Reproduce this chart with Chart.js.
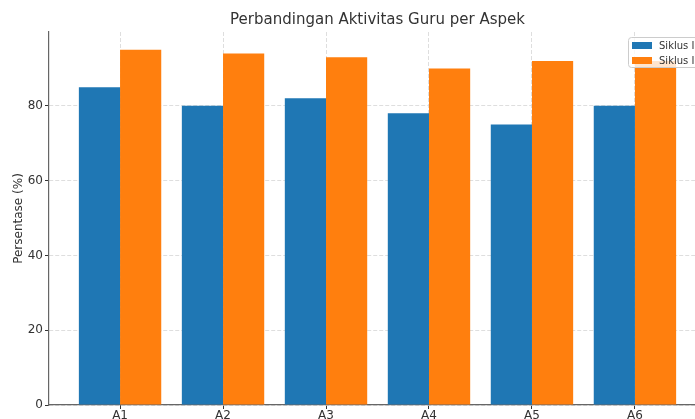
<!DOCTYPE html>
<html>
<head>
<meta charset="utf-8">
<script src="https://cdn.jsdelivr.net/npm/chart.js@4.4.0/dist/chart.umd.min.js"></script>
<style>
    html, body { margin: 0; padding: 0; overflow: hidden; background: #fff; }
    #wrap { width: 720px; height: 419px; position: relative; }
</style>
</head>
<body>
<div id="wrap"><canvas id="chart"></canvas></div>
<script>
// Data
const categories = ['A1', 'A2', 'A3', 'A4', 'A5', 'A6'];
const siklus1 = [85, 80, 82, 78, 75, 80];
const siklus2 = [95, 94, 93, 90, 92, 92];
const yTicks = [0, 20, 40, 60, 80];
const seriesNames = ['Siklus I', 'Siklus II'];

const FONT = "'DejaVu Sans', sans-serif";
const TEXT = '#333333';

// Title, y label and matplotlib-like legend
const extras = {
    id: 'extras',
    afterDatasetsDraw(chart) {
        const ctx = chart.ctx;
        const area = chart.chartArea;
        ctx.save();
        // title
        ctx.fillStyle = TEXT;
        ctx.font = '15px ' + FONT;
        ctx.textAlign = 'center';
        ctx.textBaseline = 'middle';
        ctx.fillText('Perbandingan Aktivitas Guru per Aspek', (area.left + area.right) / 2, 20);
        // y label
        ctx.save();
        ctx.translate(19, (area.top + area.bottom) / 2);
        ctx.rotate(-Math.PI / 2);
        ctx.font = '12px ' + FONT;
        ctx.fillText('Persentase (%)', 0, 0);
        ctx.restore();
        // legend
        const bx = area.right - 78, by = 37, bw = 90, bh = 30;
        ctx.fillStyle = 'rgba(255,255,255,0.8)';
        ctx.strokeStyle = '#cccccc';
        ctx.lineWidth = 1;
        ctx.beginPath();
        ctx.roundRect(bx + 0.5, by + 0.5, bw, bh, 3);
        ctx.fill();
        ctx.stroke();
        ctx.font = '10px ' + FONT;
        ctx.textAlign = 'left';
        chart.data.datasets.forEach((ds, i) => {
            const y = by + 8 + i * 15;
            ctx.fillStyle = ds.backgroundColor;
            ctx.fillRect(bx + 4, y - 3, 20, 7);
            ctx.fillStyle = TEXT;
            ctx.fillText(ds.label, bx + 31, y + 1);
        });
        ctx.restore();
    }
};

new Chart(document.getElementById('chart'), {
    type: 'bar',
    data: {
        datasets: [{
            label: seriesNames[0],
            data: siklus1.map((v, i) => ({ x: i, y: v })),
            backgroundColor: '#1f77b4',
            categoryPercentage: 0.8,
            barPercentage: 1.0
        }, {
            label: seriesNames[1],
            data: siklus2.map((v, i) => ({ x: i, y: v })),
            backgroundColor: '#ff7f0e',
            categoryPercentage: 0.8,
            barPercentage: 1.0
        }]
    },
    options: {
        responsive: true,
        maintainAspectRatio: false,
        animation: false,
        devicePixelRatio: 1,
        layout: { padding: { left: 0, right: 14, top: 32, bottom: 0 } },
        plugins: {
            legend: { display: false },
            title: { display: false },
            tooltip: { enabled: false }
        },
        scales: {
            x: {
                type: 'linear',
                offset: false,
                min: -0.69,
                max: 5.69,
                afterBuildTicks: (scale) => { scale.ticks = categories.map((_, i) => ({ value: i })); },
                afterFit: (scale) => { scale.height = 14; },
                ticks: {
                    callback: (v) => categories[v],
                    autoSkip: false,
                    maxRotation: 0,
                    padding: 0,
                    color: TEXT,
                    font: { family: FONT, size: 12 }
                },
                grid: {
                    offset: false,
                    color: '#d6d6d6',
                    lineWidth: 0.8,
                    tickLength: 4,
                    tickColor: '#333333',
                    tickWidth: 1
                },
                border: { color: '#666666', width: 1.2, dash: [4, 2] }
            },
            y: {
                min: 0,
                max: 99.75,
                afterBuildTicks: (scale) => { scale.ticks = yTicks.map(v => ({ value: v })); },
                afterFit: (scale) => { scale.width = 49; },
                ticks: {
                    padding: 2,
                    color: TEXT,
                    font: { family: FONT, size: 12 }
                },
                grid: {
                    color: '#d6d6d6',
                    lineWidth: 0.8,
                    tickLength: 4,
                    tickColor: '#333333',
                    tickWidth: 1
                },
                border: { color: '#666666', width: 1.2, dash: [4, 2] }
            }
        }
    },
    plugins: [extras]
});
</script>
</body>
</html>
